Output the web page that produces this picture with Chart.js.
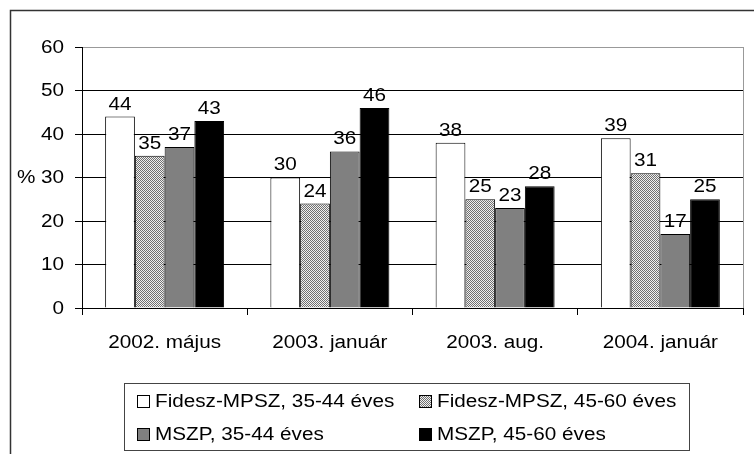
<!DOCTYPE html>
<html>
<head>
<meta charset="utf-8">
<script src="https://cdn.jsdelivr.net/npm/chart.js@4.4.0/dist/chart.umd.min.js"></script>
<style>
  html, body { margin: 0; padding: 0; background: #fff; }
  #wrap { width: 754px; height: 454px; }
</style>
</head>
<body>
<div id="wrap"><canvas id="chart" width="754" height="454"></canvas></div>
<script>
const categories = ['2002. május', '2003. január', '2003. aug.', '2004. január'];
const fidesz3544 = [44, 30, 38, 39];
const fidesz4560 = [35, 24, 25, 31];
const mszp3544 = [37, 36, 23, 17];
const mszp4560 = [43, 46, 28, 25];
const seriesNames = ['Fidesz-MPSZ, 35-44 éves', 'Fidesz-MPSZ, 45-60 éves', 'MSZP, 35-44 éves', 'MSZP, 45-60 éves'];
const yTicks = [0, 10, 20, 30, 40, 50, 60];

const FONT = '18px "Liberation Sans", Arial, sans-serif';
const STRETCH = 1.15; // the original text is a bit wider than Arial

// fine checker pattern for the hatched series
function makePattern() {
    const c = document.createElement('canvas');
    c.width = 2; c.height = 2;
    const g = c.getContext('2d');
    g.fillStyle = '#f0f0f0';
    g.fillRect(0, 0, 2, 2);
    g.fillStyle = '#707070';
    g.fillRect(0, 0, 1, 1);
    g.fillRect(1, 1, 1, 1);
    return g.createPattern(c, 'repeat');
}
const hatch = makePattern();

function text(ctx, str, x, y, align, baseline) {
    ctx.save();
    ctx.translate(x, y);
    ctx.scale(STRETCH, 1);
    ctx.textAlign = align;
    ctx.textBaseline = baseline;
    ctx.fillText(str, 0, 0);
    ctx.restore();
}

const extras = {
    id: 'extras',
    afterDraw(chart) {
        const ctx = chart.ctx;
        const a = chart.chartArea;
        const xs = chart.scales.x;
        const ys = chart.scales.y;
        ctx.save();

        // outer frame (left and top)
        ctx.strokeStyle = '#333';
        ctx.lineWidth = 1.5;
        ctx.beginPath();
        ctx.moveTo(10.5, 454);
        ctx.lineTo(10.5, 10.5);
        ctx.lineTo(754, 10.5);
        ctx.stroke();

        // plot area right border
        ctx.strokeStyle = '#999';
        ctx.lineWidth = 1;
        ctx.beginPath();
        ctx.moveTo(Math.round(a.right) + 0.5, a.top);
        ctx.lineTo(Math.round(a.right) + 0.5, a.bottom);
        ctx.stroke();

        ctx.fillStyle = '#000';
        ctx.font = FONT;

        // axis labels
        ys.ticks.forEach(t => text(ctx, String(t.value), 64, ys.getPixelForValue(t.value) + 1, 'right', 'middle'));
        categories.forEach((c, i) => text(ctx, c, xs.getPixelForValue(i), 343, 'center', 'middle'));
        text(ctx, '%', 17, ys.getPixelForValue(30) + 1, 'left', 'middle');

        // value labels
        chart.data.datasets.forEach((ds, i) => {
            chart.getDatasetMeta(i).data.forEach((bar, j) => {
                text(ctx, String(ds.data[j]), bar.x, bar.y - 3, 'center', 'bottom');
            });
        });

        // legend
        ctx.strokeStyle = '#444';
        ctx.lineWidth = 1;
        ctx.strokeRect(124.5, 383.5, 565, 67);
        const cols = [137, 419];
        const rows = [401, 434];
        chart.data.datasets.forEach((ds, i) => {
            const x = cols[i % 2];
            const y = rows[Math.floor(i / 2)];
            ctx.fillStyle = ds.backgroundColor;
            ctx.fillRect(x, y - 6, 13, 13);
            ctx.strokeStyle = '#000';
            ctx.strokeRect(x + 0.5, y - 5.5, 12, 12);
            ctx.fillStyle = '#000';
            text(ctx, ds.label, x + 18, y + 1, 'left', 'middle');
        });

        ctx.restore();
    }
};

const colors = ['#ffffff', hatch, '#808080', '#000000'];
const values = [fidesz3544, fidesz4560, mszp3544, mszp4560];

new Chart(document.getElementById('chart'), {
    type: 'bar',
    data: {
        labels: categories,
        datasets: values.map((v, i) => ({
            label: seriesNames[i],
            data: v,
            backgroundColor: colors[i],
            borderColor: '#000',
            borderWidth: 1,
            categoryPercentage: 0.72,
            barPercentage: 1
        }))
    },
    options: {
        responsive: false,
        animation: false,
        layout: { padding: { top: 47, right: 11, left: 0, bottom: 0 } },
        plugins: {
            legend: { display: false },
            tooltip: { enabled: false }
        },
        scales: {
            x: {
                grid: { drawOnChartArea: false, drawTicks: true, tickLength: 7, color: '#000', offset: true },
                border: { color: '#000', width: 1 },
                ticks: { display: false },
                afterFit: s => { s.height = 146; }
            },
            y: {
                min: 0,
                max: 60,
                afterBuildTicks: s => { s.ticks = yTicks.map(v => ({ value: v })); },
                grid: {
                    color: c => (c.tick && c.tick.value === 60) ? '#999' : '#000',
                    tickLength: 7,
                    tickColor: '#000'
                },
                border: { color: '#000', width: 1 },
                ticks: { display: false },
                afterFit: s => { s.width = 82; }
            }
        }
    },
    plugins: [extras]
});
</script>
</body>
</html>
